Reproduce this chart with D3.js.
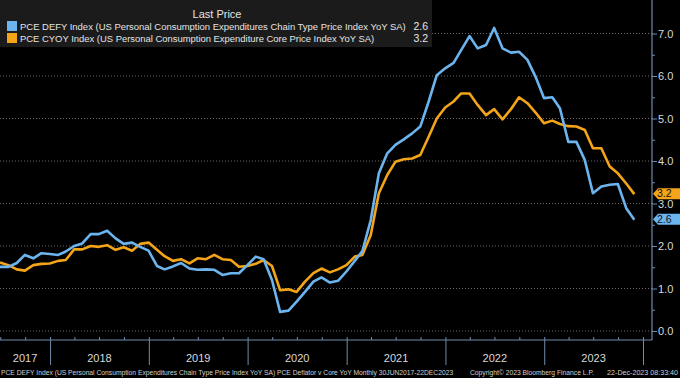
<!DOCTYPE html>
<html><head><meta charset="utf-8">
<script src="https://cdn.jsdelivr.net/npm/d3@7/dist/d3.min.js"></script>
<style>html,body{margin:0;padding:0;background:#000;overflow:hidden}svg{display:block}</style>
</head><body><svg id="c" width="680" height="378"></svg>
<script>
// ---- data (monthly, month-end, Jun 2017 .. Nov 2023) ----
const startYear = 2017, startMonth = 5; // June 2017 (0-based month)
const pceDefy = [
  1.51, 1.51, 1.60, 1.79, 1.71, 1.83, 1.81,
  1.79, 1.87, 2.00, 2.06, 2.28, 2.28, 2.36, 2.18, 2.05, 2.08, 1.98, 1.89,
  1.53, 1.45, 1.52, 1.60, 1.47, 1.44, 1.45, 1.44, 1.32, 1.36, 1.36, 1.55,
  1.75, 1.69, 1.20, 0.45, 0.48, 0.69, 0.92, 1.16, 1.26, 1.14, 1.18, 1.40,
  1.65, 1.88, 2.61, 3.71, 4.18, 4.38, 4.51, 4.65, 4.81, 5.40, 6.02, 6.18,
  6.31, 6.61, 6.94, 6.65, 6.73, 7.13, 6.65, 6.55, 6.57, 6.38, 5.98, 5.48,
  5.50, 5.24, 4.45, 4.45, 4.02, 3.24, 3.40, 3.44, 3.46, 2.89, 2.62
];
const pceCore = [
  1.61, 1.55, 1.45, 1.42, 1.55, 1.58, 1.59,
  1.65, 1.67, 1.92, 1.92, 2.00, 1.98, 2.02, 1.91, 1.97, 1.89, 2.05, 2.08,
  1.91, 1.76, 1.65, 1.69, 1.59, 1.71, 1.69, 1.79, 1.69, 1.67, 1.51, 1.53,
  1.58, 1.67, 1.53, 0.96, 0.98, 0.92, 1.16, 1.36, 1.47, 1.38, 1.45, 1.55,
  1.75, 1.79, 2.26, 3.24, 3.67, 3.98, 4.04, 4.06, 4.14, 4.57, 5.00, 5.26,
  5.40, 5.59, 5.59, 5.32, 5.08, 5.22, 4.98, 5.22, 5.50, 5.36, 5.14, 4.89,
  4.95, 4.87, 4.82, 4.81, 4.73, 4.30, 4.30, 3.87, 3.71, 3.47, 3.22
];
const yearLabels = ["2017","2018","2019","2020","2021","2022","2023"];
const yTicks = [0,1,2,3,4,5,6,7];
const seriesNames = [
  "PCE DEFY Index (US Personal Consumption Expenditures Chain Type Price Index YoY SA)",
  "PCE CYOY Index (US Personal Consumption Expenditure Core Price Index YoY SA)"
];
const lastValues = ["2.6", "3.2"];
const legendTitle = "Last Price";
const footerLeft = "PCE DEFY Index (US Personal Consumption Expenditures Chain Type Price Index YoY SA) PCE Deflator v Core YoY  Monthly 30JUN2017-22DEC2023";
const footerMid = "Copyright\u00A9 2023 Bloomberg Finance L.P.";
const footerRight = "22-Dec-2023 08:33:40";

// ---- styles ----
const BLUE = "#6cb4ee", ORANGE = "#f4a418", AXIS = "#6f8cab", TXT = "#d8d8d8";
const FONT = "'Liberation Sans', Arial, sans-serif";

const svg = d3.select("#c");
svg.append("rect").attr("width",680).attr("height",378).attr("fill","#000");

// shrink a text's font so that its natural width equals the target width
function fit(sel, target, base) {
  sel.attr("font-size", base);
  const w = sel.node().getComputedTextLength();
  if (w > 0) sel.attr("font-size", (base * target / w).toFixed(2));
  return sel;
}

const dates = pceDefy.map((_, i) => new Date(startYear, startMonth + i + 1, 0));
const plotRight = 652, plotBottom = 340;
const x = d3.scaleTime().domain([new Date(2017,5,30), new Date(2024,0,1)]).range([0, 643]);
const y = d3.scaleLinear().domain([0,7]).range([331, 33.5]);

// gridlines
svg.append("g").selectAll("line").data(yTicks).join("line")
  .attr("x1",0).attr("x2",plotRight).attr("y1",d=>y(d)).attr("y2",d=>y(d))
  .attr("stroke","#6a6a6a").attr("stroke-width",1).attr("stroke-dasharray","1,2");

// lines
const line = (arr) => d3.line().x((d,i)=>x(dates[i])).y(d=>y(d))(arr);
svg.append("path").attr("d", line(pceCore)).attr("fill","none").attr("stroke",ORANGE).attr("stroke-width",2.6).attr("stroke-linejoin","round");
svg.append("path").attr("d", line(pceDefy)).attr("fill","none").attr("stroke",BLUE).attr("stroke-width",2.6).attr("stroke-linejoin","round");

// right axis
const ra = svg.append("g").attr("transform",`translate(${plotRight},0)`)
  .call(d3.axisRight(y).tickValues(yTicks).tickFormat(d3.format(".1f")).tickSize(5).tickPadding(1));
ra.select(".domain").remove();
ra.selectAll("line").attr("stroke",AXIS);
ra.selectAll("text").attr("fill",TXT).attr("font-family",FONT).attr("font-size",11);
const rm = svg.append("g").attr("transform",`translate(${plotRight},0)`)
  .call(d3.axisRight(y).tickValues(yTicks.slice(0,-1).map(d=>d+0.5)).tickFormat("").tickSize(3));
rm.select(".domain").remove();
rm.selectAll("line").attr("stroke",AXIS);
svg.append("line").attr("x1",plotRight).attr("x2",plotRight).attr("y1",0).attr("y2",plotBottom).attr("stroke",AXIS).attr("stroke-width",1.2);

// bottom axis
svg.append("line").attr("x1",0).attr("x2",plotRight).attr("y1",plotBottom).attr("y2",plotBottom).attr("stroke",AXIS).attr("stroke-width",1.2);
const qa = svg.append("g").attr("transform",`translate(0,${plotBottom})`)
  .call(d3.axisBottom(x).ticks(d3.timeMonth.every(3)).tickSize(-3).tickFormat(""));
qa.select(".domain").remove();
qa.selectAll("line").attr("stroke",AXIS);
const yearStarts = d3.range(2018, 2025).map(yr => new Date(yr,0,1));
const ya = svg.append("g").attr("transform",`translate(0,${plotBottom})`)
  .call(d3.axisBottom(x).tickValues(yearStarts).tickSize(25).tickFormat(""));
ya.select(".domain").remove();
ya.selectAll("line").attr("stroke",AXIS);
svg.append("g").selectAll("text").data(yearLabels).join("text")
  .attr("x", d => { const yr=+d; const a=Math.max(0,x(new Date(yr,0,1))); const b=x(new Date(yr+1,0,1)); return (a+b)/2; })
  .attr("y", 362).attr("text-anchor","middle").attr("fill",TXT)
  .attr("font-family",FONT).attr("font-size",11).text(d=>d);

// footer
const foot = svg.append("g").attr("font-family",FONT).attr("fill","#cfcfcf");
fit(foot.append("text").attr("x",1).attr("y",375).text(footerLeft), 452, 8);
fit(foot.append("text").attr("x",470).attr("y",375).text(footerMid), 124, 8);
fit(foot.append("text").attr("x",678).attr("y",375).attr("text-anchor","end").text(footerRight), 71, 8);

// legend
const lg = svg.append("g").attr("font-family",FONT).attr("fill","#e4e4e4");
lg.append("rect").attr("x",0).attr("y",0).attr("width",432).attr("height",47).attr("fill","#1b1b1b");
lg.append("text").attr("x",217).attr("y",18).attr("text-anchor","middle").attr("font-size",11).text(legendTitle);
const colors = [BLUE, ORANGE], ends = [406, 375];
seriesNames.forEach((n,i) => {
  const yy = 30 + i*12;
  lg.append("rect").attr("x",7).attr("y",yy-9).attr("width",10).attr("height",10).attr("fill",colors[i]);
  fit(lg.append("text").attr("x",20).attr("y",yy).text(n), ends[i]-20, 11);
  lg.append("text").attr("x",428).attr("y",yy).attr("text-anchor","end").attr("font-size",10.5).text(lastValues[i]);
});

// last value tags
const tags = [{v: pceCore[pceCore.length-1], t: lastValues[1], c: ORANGE},
              {v: pceDefy[pceDefy.length-1], t: lastValues[0], c: BLUE}];
tags.forEach(tg => {
  const cy = y(tg.v) - 0.5, h = 11;
  svg.append("path").attr("d", `M${plotRight+1},${cy} L${plotRight+6},${cy-h/2} L680,${cy-h/2} L680,${cy+h/2} L${plotRight+6},${cy+h/2} Z`).attr("fill",tg.c);
  svg.append("text").attr("x",657).attr("y",cy+3.8).attr("fill","#111").attr("font-family",FONT).attr("font-size",10.5).text(tg.t);
});
</script></body></html>
